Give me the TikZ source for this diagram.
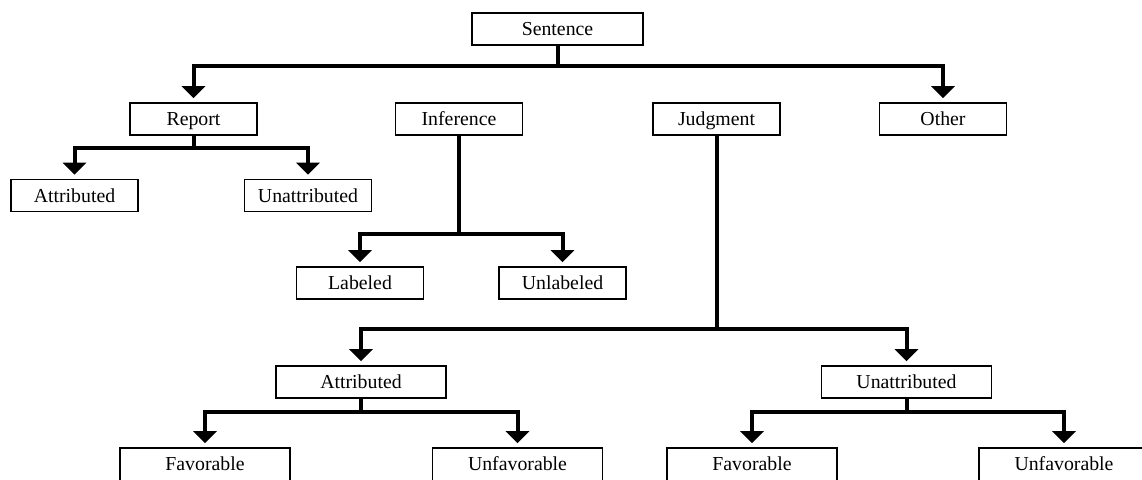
\documentclass[tikz,border=0pt]{standalone}
\usepackage{fontspec}
\setmainfont{Liberation Serif}
\usetikzlibrary{arrows.meta}
\tikzset{
  box/.style={draw=black, line width=1.6pt, fill=white, minimum height=32pt, inner sep=0pt,
    font=\fontsize{19.8}{22}\selectfont, text height=13.5pt, text depth=0.5pt, anchor=center},
  sbox/.style={box, minimum width=127pt},
  lbox/.style={box, minimum width=170pt},
  cutbox/.style={lbox, minimum height=40pt, text depth=8.5pt},
  link/.style={line width=4pt, line join=miter},
  arr/.style={link, -{Triangle[width=23pt,length=12pt]}, shorten >=4pt}
}
\begin{document}
\begin{tikzpicture}[x=1pt,y=-1pt]
\useasboundingbox (0,0) rectangle (1142,479);
\clip (0,0) rectangle (1142,479);
% nodes
\node[box, minimum width=171pt] (sentence) at (557.5,29) {Sentence};
\node[sbox] (report) at (193.5,119) {Report};
\node[sbox] (inference) at (459,119) {Inference};
\node[sbox] (judgment) at (716.5,119) {Judgment};
\node[sbox] (other) at (943,119) {Other};
\node[sbox] (rattr) at (74.5,195.5) {Attributed};
\node[sbox] (runattr) at (308,195.5) {Unattributed};
\node[sbox] (labeled) at (360,283) {Labeled};
\node[sbox] (unlabeled) at (562.5,283) {Unlabeled};
\node[lbox] (jattr) at (361,382) {Attributed};
\node[lbox] (junattr) at (906.5,382) {Unattributed};
\node[cutbox] (fav1) at (205,468) {Favorable};
\node[cutbox] (unfav1) at (517.5,468) {Unfavorable};
\node[cutbox] (fav2) at (752,468) {Favorable};
\node[cutbox] (unfav2) at (1064,468) {Unfavorable};
% junctions
\coordinate (js) at (557.5,66);
\coordinate (jr) at (193.5,148);
\coordinate (ji) at (459,234);
\coordinate (jj) at (716.5,329);
\coordinate (ja) at (361,412);
\coordinate (ju) at (906.5,412);
% connectors
\draw[arr] (sentence.south) -- (js) -| (report.north);
\draw[arr] (js) -| (other.north);
\draw[arr] (report.south) -- (jr) -| (rattr.north);
\draw[arr] (jr) -| (runattr.north);
\draw[arr] (inference.south) -- (ji) -| (labeled.north);
\draw[arr] (ji) -| (unlabeled.north);
\draw[arr] (judgment.south) -- (jj) -| (jattr.north);
\draw[arr] (jj) -| (junattr.north);
\draw[arr] (jattr.south) -- (ja) -| (fav1.north);
\draw[arr] (ja) -| (unfav1.north);
\draw[arr] (junattr.south) -- (ju) -| (fav2.north);
\draw[arr] (ju) -| (unfav2.north);
\end{tikzpicture}
\end{document}
